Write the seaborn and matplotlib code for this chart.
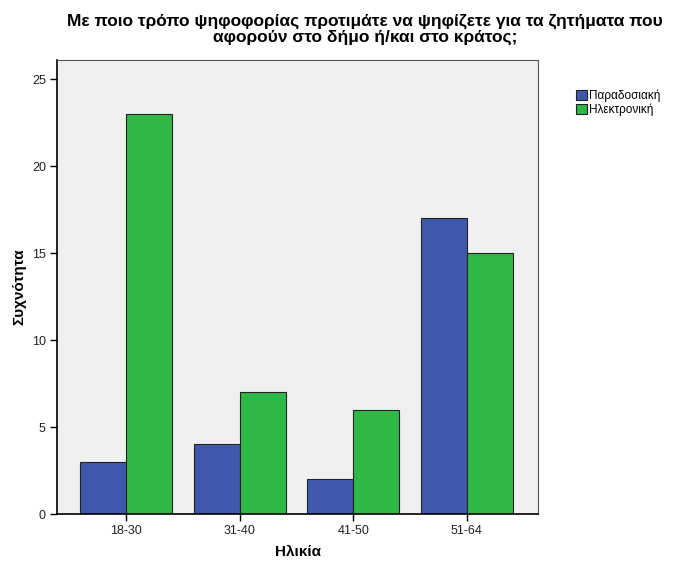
import pandas as pd
import matplotlib.pyplot as plt
import seaborn as sns

# data
ages = ["18-30", "31-40", "41-50", "51-64"]
paradosiaki = [3, 4, 2, 17]
ilektroniki = [23, 7, 6, 15]
series_names = ["Παραδοσιακή", "Ηλεκτρονική"]

df = pd.DataFrame({
    "Ηλικία": ages * 2,
    "Συχνότητα": paradosiaki + ilektroniki,
    "Τρόπος": [series_names[0]] * 4 + [series_names[1]] * 4,
})

sns.set_style("white")
plt.rcParams["font.family"] = ["Liberation Sans", "DejaVu Sans"]
plt.rcParams["text.color"] = "black"
plt.rcParams["axes.labelcolor"] = "black"

fig = plt.figure(figsize=(6.76, 5.62), dpi=100)
ax = fig.add_axes([0.0843, 0.0854, 0.7117, 0.8076])
ax.set_facecolor("#f0f0f0")

sns.barplot(data=df, x="Ηλικία", y="Συχνότητα", hue="Τρόπος",
            palette=["#3e58ac", "#2eb848"], saturation=1, width=0.81, gap=0,
            edgecolor="#222222", linewidth=0.8, ax=ax)

ax.set_ylim(0, 26.1)
ax.set_xlim(-0.607, 3.627)
ax.set_yticks([0, 5, 10, 15, 20, 25])
ax.tick_params(axis="both", length=5, width=1, color="black", labelsize=9,
               labelcolor="#222222", direction="out", pad=3, bottom=True, left=True)
for s in ax.spines.values():
    s.set_color("#555555")
    s.set_linewidth(0.8)
ax.spines["left"].set_color("black")
ax.spines["bottom"].set_color("black")
ax.spines["left"].set_linewidth(1.2)
ax.spines["bottom"].set_linewidth(1.2)

ax.set_xlabel("Ηλικία", fontsize=11, fontweight="bold", labelpad=6)
ax.set_ylabel("Συχνότητα", fontsize=11, fontweight="bold", labelpad=4)

fig.suptitle("Με ποιο τρόπο ψηφοφορίας προτιμάτε να ψηφίζετε για τα ζητήματα που\n"
             "αφορούν στο δήμο ή/και στο κράτος;",
             fontsize=12.5, fontweight="bold", x=0.54, y=0.975, linespacing=1.0)

leg = ax.legend(loc="upper left", bbox_to_anchor=(1.07, 0.945), frameon=False,
                fontsize=8.5, handlelength=0.9, handleheight=0.9, handletextpad=0.2,
                labelspacing=0.1, borderaxespad=0)

fig.savefig("out.png", dpi=100)
